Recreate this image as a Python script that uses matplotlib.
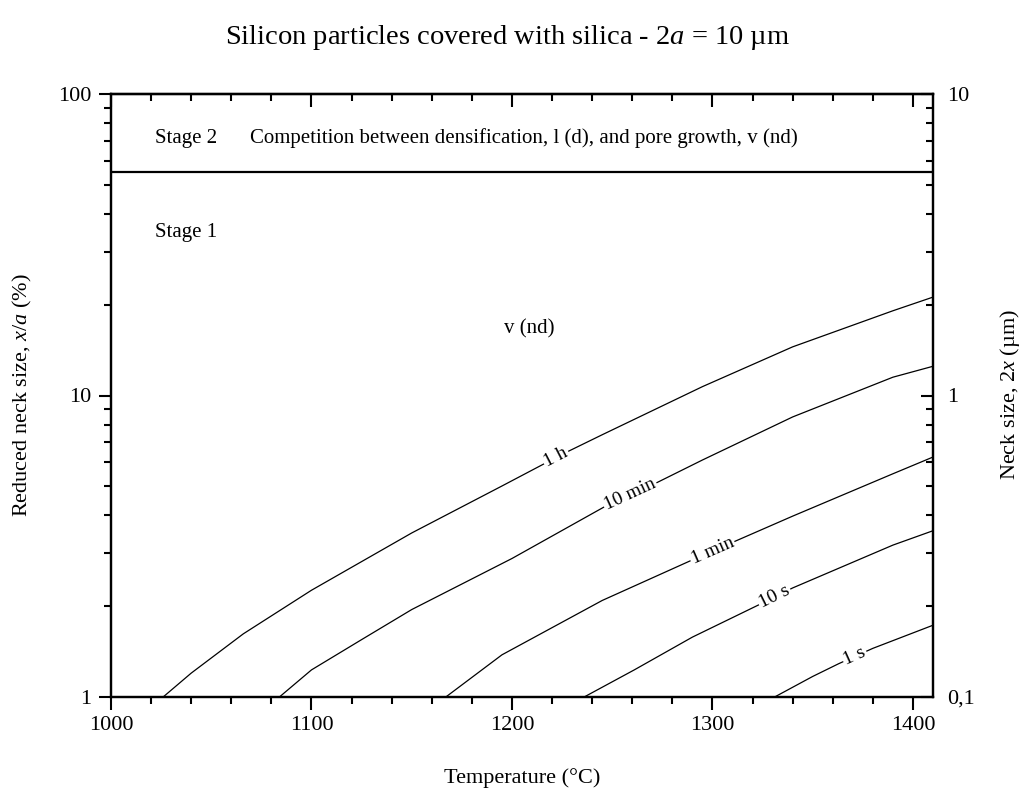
import numpy as np
import matplotlib
matplotlib.use('Agg')
import matplotlib.pyplot as plt
from matplotlib.ticker import MultipleLocator, FixedLocator, FixedFormatter, LogLocator, NullFormatter

plt.rcParams['font.family'] = 'Liberation Serif'
plt.rcParams['mathtext.fontset'] = 'custom'
plt.rcParams['mathtext.rm'] = 'Liberation Serif'
plt.rcParams['mathtext.it'] = 'Liberation Serif:italic'

# Isochronal curves: temperature (°C) vs reduced neck size x/a (%)
t_1h = [1026, 1040, 1066, 1100, 1150, 1195, 1225, 1245, 1295, 1340, 1390, 1410]
v_1h = [1.0, 1.20, 1.62, 2.26, 3.50, 5.01, 6.38, 7.41, 10.7, 14.5, 19.1, 21.2]

t_10min = [1084, 1100, 1125, 1150, 1200, 1246, 1272, 1295, 1340, 1390, 1410]
v_10min = [1.0, 1.23, 1.55, 1.95, 2.88, 4.27, 5.13, 6.11, 8.49, 11.5, 12.5]

t_1min = [1167, 1195, 1245, 1290, 1340, 1390, 1410]
v_1min = [1.0, 1.38, 2.09, 2.85, 3.98, 5.50, 6.25]

t_10s = [1236, 1261, 1290, 1323, 1340, 1390, 1410]
v_10s = [1.0, 1.23, 1.58, 2.02, 2.30, 3.19, 3.56]

t_1s = [1331, 1350, 1363, 1380, 1410]
v_1s = [1.0, 1.17, 1.29, 1.45, 1.73]

curve_labels = ['1 h', '10 min', '1 min', '10 s', '1 s']
label_temps = [1222, 1259, 1300, 1331, 1371]

stage_boundary = 55.0  # x/a (%) between stage 1 and stage 2

fig = plt.figure(figsize=(10.32, 7.89), dpi=100)
ax = fig.add_axes([111 / 1032, 92 / 789, 822 / 1032, 603 / 789])

ax.set_yscale('log')
ax.set_xlim(1000, 1410)
ax.set_ylim(1, 100)

curves = [(t_1h, v_1h), (t_10min, v_10min), (t_1min, v_1min), (t_10s, v_10s), (t_1s, v_1s)]
for (tt, vv) in curves:
    ax.plot(tt, vv, color='black', lw=0.9)

ax.axhline(stage_boundary, color='black', lw=1.6)

# inline labels along each curve
for (tt, vv), lab, tl in zip(curves, curve_labels, label_temps):
    lv = np.log10(vv)
    y0 = 10 ** np.interp(tl, tt, lv)
    p1 = ax.transData.transform((tl - 6, 10 ** np.interp(tl - 6, tt, lv)))
    p2 = ax.transData.transform((tl + 6, 10 ** np.interp(tl + 6, tt, lv)))
    ang = np.degrees(np.arctan2(p2[1] - p1[1], p2[0] - p1[0]))
    ax.text(tl, y0, lab, fontsize=14, rotation=ang, rotation_mode='anchor',
            ha='center', va='center',
            bbox=dict(facecolor='white', edgecolor='none', pad=1.0))

# annotations
ax.text(0.053, 0.927, 'Stage 2', transform=ax.transAxes, fontsize=15, va='center')
ax.text(0.169, 0.927, 'Competition between densification, l (d), and pore growth, v (nd)',
        transform=ax.transAxes, fontsize=15, va='center')
ax.text(0.053, 0.771, 'Stage 1', transform=ax.transAxes, fontsize=15, va='center')
ax.text(0.509, 0.611, 'v (nd)', transform=ax.transAxes, fontsize=15, va='center', ha='center')

# axes styling
for sp in ax.spines.values():
    sp.set_linewidth(1.6)

ax.xaxis.set_major_locator(MultipleLocator(100))
ax.xaxis.set_minor_locator(MultipleLocator(20))
ax.yaxis.set_major_locator(FixedLocator([1, 10, 100]))
ax.yaxis.set_major_formatter(FixedFormatter(['1', '10', '100']))
ax.yaxis.set_minor_locator(LogLocator(base=10, subs=np.arange(2, 10), numticks=10))
ax.yaxis.set_minor_formatter(NullFormatter())
ax.tick_params(which='both', direction='out', labelsize=16, width=1.5, top=False, right=False)
ax.tick_params(which='major', length=9)
ax.tick_params(which='minor', length=5)
ax.tick_params(axis='x', pad=5)
ax.tick_params(axis='y', pad=5)

# top axis: inward ticks, no labels
top = ax.secondary_xaxis('top')
top.xaxis.set_major_locator(MultipleLocator(100))
top.xaxis.set_minor_locator(MultipleLocator(20))
top.tick_params(which='both', direction='in', labeltop=False, width=1.5)
top.tick_params(which='major', length=9)
top.tick_params(which='minor', length=5)
top.spines['top'].set_linewidth(1.6)

# right axis: neck size 2x (µm)
ax2 = ax.twinx()
ax2.set_yscale('log')
ax2.set_ylim(0.1, 10)
ax2.yaxis.set_major_locator(FixedLocator([0.1, 1, 10]))
ax2.yaxis.set_major_formatter(FixedFormatter(['0,1', '1', '10']))
ax2.yaxis.set_minor_locator(LogLocator(base=10, subs=np.arange(2, 10), numticks=10))
ax2.yaxis.set_minor_formatter(NullFormatter())
ax2.tick_params(which='both', direction='in', labelsize=16, width=1.5, pad=10)
ax2.tick_params(which='major', length=9)
ax2.tick_params(which='minor', length=5)
for sp in ax2.spines.values():
    sp.set_linewidth(1.6)

# titles and axis labels
fig.text(508 / 1032, 1 - 38 / 789, r'Silicon particles covered with silica - 2$a$ = 10 µm',
         fontsize=20.5, ha='center', va='center')
fig.text(522 / 1032, 1 - 778 / 789, 'Temperature (°C)', fontsize=16, ha='center', va='center')
fig.text(22 / 1032, 1 - 395 / 789, r'Reduced neck size, $x$/$a$ (%)', fontsize=16,
         ha='center', va='center', rotation=90)
fig.text(1010 / 1032, 1 - 395 / 789, r'Neck size, 2$x$ (µm)', fontsize=16,
         ha='center', va='center', rotation=90)

fig.savefig('out.png', dpi=100)
